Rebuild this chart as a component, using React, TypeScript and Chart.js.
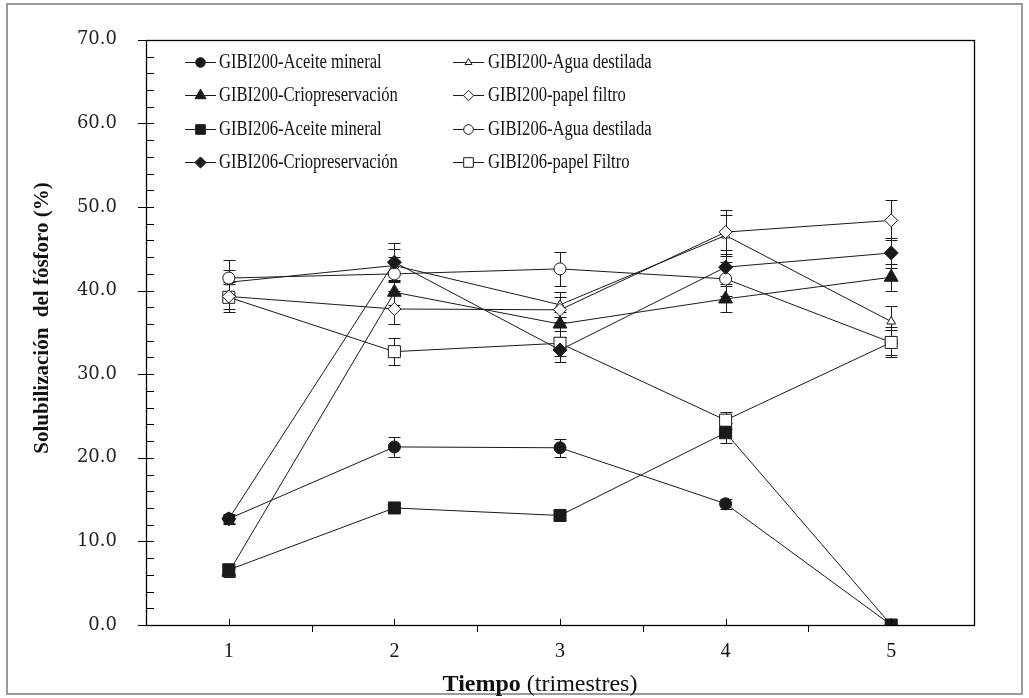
import React, { useEffect, useRef } from 'react';
import { Chart, registerables } from 'chart.js';

Chart.register(...registerables);

// ---------------- data ----------------
const categories = ['1', '2', '3', '4', '5'];

const seriesNames = [
  'GIBI200-Aceite mineral',
  'GIBI200-Agua destilada',
  'GIBI200-Criopreservación',
  'GIBI200-papel filtro',
  'GIBI206-Aceite mineral',
  'GIBI206-Agua destilada',
  'GIBI206-Criopreservación',
  'GIBI206-papel Filtro',
];

const g200Aceite = [12.7, 21.3, 21.2, 14.5, 0.0];
const g200Agua = [41.0, 43.0, 38.3, 46.6, 36.3];
const g200Crio = [6.3, 39.8, 36.0, 39.0, 41.6];
const g200Papel = [39.3, 37.8, 37.7, 47.0, 48.4];
const g206Aceite = [6.6, 14.0, 13.1, 23.0, 0.0];
const g206Agua = [41.5, 42.0, 42.6, 41.4, 33.8];
const g206Crio = [12.7, 43.4, 32.9, 42.8, 44.5];
const g206Papel = [39.2, 32.7, 33.7, 24.5, 33.8];

const g200AceiteErr = [0.6, 1.2, 1.1, 0.6, 0];
const g200AguaErr = [1.5, 2.0, 1.5, 2.5, 1.9];
const g200CrioErr = [0.5, 1.5, 1.5, 1.6, 1.6];
const g200PapelErr = [1.5, 1.8, 1.5, 2.6, 2.4];
const g206AceiteErr = [0.5, 0.5, 0.5, 1.2, 0];
const g206AguaErr = [2.2, 2.0, 2.0, 2.0, 1.5];
const g206CrioErr = [0.5, 2.3, 1.5, 2.0, 1.8];
const g206PapelErr = [1.8, 1.6, 1.5, 1.0, 1.8];

const seriesValues = [g200Aceite, g200Agua, g200Crio, g200Papel, g206Aceite, g206Agua, g206Crio, g206Papel];
const seriesErrors = [g200AceiteErr, g200AguaErr, g200CrioErr, g200PapelErr, g206AceiteErr, g206AguaErr, g206CrioErr, g206PapelErr];

const yMin = 0;
const yMax = 70;
const yMajorStep = 10;
const yMinorStep = 2;

const yTitle = 'Solubilización  del fósforo (%)';
const xTitleBold = 'Tiempo';
const xTitleRest = ' (trimestres)';

// ---------------- styles ----------------
const INK = '#1a1a1a';

type PStyle = 'circle' | 'triangle' | 'rect' | 'rectRot';
const markerStyles: { style: PStyle; radius: number; filled: boolean; order: number }[] = [
  { style: 'circle', radius: 6, filled: true, order: 0 },
  { style: 'triangle', radius: 5, filled: false, order: 2 },
  { style: 'triangle', radius: 8, filled: true, order: 1 },
  { style: 'rectRot', radius: 6.5, filled: false, order: 0 },
  { style: 'rect', radius: 8.5, filled: true, order: 0 },
  { style: 'circle', radius: 6, filled: false, order: 1 },
  { style: 'rectRot', radius: 7, filled: true, order: 0 },
  { style: 'rect', radius: 8.5, filled: false, order: 0 },
];

function drawMarker(ctx: CanvasRenderingContext2D, style: PStyle, x: number, y: number, r: number, filled: boolean) {
  ctx.beginPath();
  if (style === 'circle') {
    ctx.arc(x, y, r, 0, Math.PI * 2);
  } else if (style === 'triangle') {
    let a = 0;
    ctx.moveTo(x + Math.sin(a) * r, y - Math.cos(a) * r);
    a += (2 * Math.PI) / 3;
    ctx.lineTo(x + Math.sin(a) * r, y - Math.cos(a) * r);
    a += (2 * Math.PI) / 3;
    ctx.lineTo(x + Math.sin(a) * r, y - Math.cos(a) * r);
  } else if (style === 'rect') {
    const s = Math.SQRT1_2 * r;
    ctx.rect(x - s, y - s, 2 * s, 2 * s);
  } else {
    ctx.moveTo(x - r, y);
    ctx.lineTo(x, y - r);
    ctx.lineTo(x + r, y);
    ctx.lineTo(x, y + r);
  }
  ctx.closePath();
  ctx.fillStyle = filled ? INK : '#ffffff';
  ctx.fill();
  ctx.strokeStyle = INK;
  ctx.lineWidth = 1;
  ctx.stroke();
}

const decorPlugin = {
  id: 'decor',
  beforeDatasetsDraw(chart: any) {
    const ctx: CanvasRenderingContext2D = chart.ctx;
    const ys = chart.scales.y;
    ctx.save();
    ctx.strokeStyle = INK;
    ctx.lineWidth = 1;
    chart.data.datasets.forEach((ds: any, i: number) => {
      const meta = chart.getDatasetMeta(i);
      const errs = seriesErrors[i];
      meta.data.forEach((pt: any, j: number) => {
        const e = errs[j];
        if (!e) return;
        const v = ds.data[j];
        const yt = Math.round(ys.getPixelForValue(v + e)) + 0.5;
        const yb = Math.round(ys.getPixelForValue(v - e)) + 0.5;
        const x = Math.round(pt.x) + 0.5;
        ctx.beginPath();
        ctx.moveTo(x, yt);
        ctx.lineTo(x, yb);
        ctx.moveTo(x - 6, yt);
        ctx.lineTo(x + 6, yt);
        ctx.moveTo(x - 6, yb);
        ctx.lineTo(x + 6, yb);
        ctx.stroke();
      });
    });
    ctx.restore();
  },
  afterDraw(chart: any) {
    const ctx: CanvasRenderingContext2D = chart.ctx;
    const { left, right, top, bottom } = chart.chartArea;
    const xs = chart.scales.x;
    const ys = chart.scales.y;
    ctx.save();
    // plot box
    ctx.strokeStyle = '#000';
    ctx.lineWidth = 1.3;
    ctx.strokeRect(Math.round(left) + 0.5, Math.round(top) + 0.5, Math.round(right - left), Math.round(bottom - top));

    // y ticks
    ctx.lineWidth = 1;
    ctx.beginPath();
    for (let v = yMin; v <= yMax + 1e-9; v += yMajorStep) {
      const y = Math.round(ys.getPixelForValue(v)) + 0.5;
      ctx.moveTo(left - 8, y);
      ctx.lineTo(left, y);
    }
    for (let v = yMin; v <= yMax + 1e-9; v += yMinorStep) {
      const y = Math.round(ys.getPixelForValue(v)) + 0.5;
      ctx.moveTo(left, y);
      ctx.lineTo(left + 8, y);
    }
    // x ticks
    for (let i = 0; i < categories.length; i++) {
      const x = Math.round(xs.getPixelForValue(i)) + 0.5;
      ctx.moveTo(x, bottom);
      ctx.lineTo(x, bottom - 6);
    }
    for (let i = 0; i < categories.length - 1; i++) {
      const x = Math.round(xs.getPixelForValue(i + 0.5)) + 0.5;
      ctx.moveTo(x, bottom);
      ctx.lineTo(x, bottom + 7);
    }
    ctx.stroke();

    // legend
    const colLine = [185, 453];
    const colText = [219, 488];
    const rowY0 = 62;
    const rowStep = 33.3;
    ctx.font = '20px "Liberation Serif"';
    ctx.textBaseline = 'middle';
    ctx.textAlign = 'left';
    seriesNames.forEach((name, i) => {
      const col = i % 2;
      const row = Math.floor(i / 2);
      const y = Math.round(rowY0 + row * rowStep) + 0.5;
      const x0 = colLine[col];
      ctx.strokeStyle = INK;
      ctx.lineWidth = 1;
      ctx.beginPath();
      ctx.moveTo(x0, y);
      ctx.lineTo(x0 + 31, y);
      ctx.stroke();
      const m = markerStyles[i];
      drawMarker(ctx, m.style, x0 + 15.5, y, m.radius * 0.8, m.filled);
      ctx.fillStyle = '#111';
      ctx.save();
      ctx.translate(colText[col], y);
      ctx.scale(0.83, 1);
      ctx.fillText(name, 0, 0);
      ctx.restore();
    });

    // y title
    ctx.save();
    ctx.translate(43, 318);
    ctx.rotate(-Math.PI / 2);
    ctx.font = 'bold 21px "Liberation Serif"';
    ctx.fillStyle = '#111';
    ctx.textAlign = 'center';
    ctx.textBaseline = 'middle';
    ctx.fillText(yTitle, 0, 0);
    ctx.restore();

    // x title
    const fs = 24;
    ctx.font = `bold ${fs}px "Liberation Serif"`;
    const w1 = ctx.measureText(xTitleBold).width;
    ctx.font = `${fs}px "Liberation Serif"`;
    const w2 = ctx.measureText(xTitleRest).width;
    const cx = 540;
    const ty = 685;
    const sx = cx - (w1 + w2) / 2;
    ctx.fillStyle = '#111';
    ctx.textBaseline = 'middle';
    ctx.textAlign = 'left';
    ctx.font = `bold ${fs}px "Liberation Serif"`;
    ctx.fillText(xTitleBold, sx, ty);
    ctx.font = `${fs}px "Liberation Serif"`;
    ctx.fillText(xTitleRest, sx + w1, ty);
    ctx.restore();
  },
};

export default function App() {
  const canvasRef = useRef<HTMLCanvasElement | null>(null);

  useEffect(() => {
    const canvas = canvasRef.current;
    if (!canvas) return;
    const datasets = seriesNames.map((name, i) => {
      const m = markerStyles[i];
      return {
        label: name,
        data: seriesValues[i],
        borderColor: INK,
        borderWidth: 1,
        backgroundColor: m.filled ? INK : '#ffffff',
        pointStyle: m.style,
        pointRadius: m.radius,
        pointHoverRadius: m.radius,
        pointBackgroundColor: m.filled ? INK : '#ffffff',
        pointBorderColor: INK,
        pointBorderWidth: 1,
        fill: false,
        tension: 0,
        order: m.order,
      };
    });
    const chart = new Chart(canvas, {
      type: 'line',
      data: { labels: categories, datasets },
      options: {
        responsive: false,
        animation: false,
        devicePixelRatio: 1,
        layout: { padding: { top: 34, right: 55, left: 0, bottom: 0 } },
        plugins: {
          legend: { display: false },
          tooltip: { enabled: false },
          title: { display: false },
        },
        scales: {
          x: {
            type: 'category',
            offset: true,
            grid: { display: false, drawTicks: false },
            border: { display: false },
            ticks: {
              font: { family: 'Liberation Serif', size: 20 },
              color: '#111',
              padding: 15,
              maxRotation: 0,
              autoSkip: false,
            },
            afterFit: (s: any) => {
              s.height = 73;
            },
          },
          y: {
            min: yMin,
            max: yMax,
            grid: { display: false, drawTicks: false },
            border: { display: false },
            ticks: {
              stepSize: yMajorStep,
              padding: 29,
              callback: (v: any) => Number(v).toFixed(1),
              font: { family: 'DejaVu Serif', size: 18 },
              color: '#222',
            },
            afterFit: (s: any) => {
              s.width = 146;
            },
          },
        },
      } as any,
      plugins: [decorPlugin],
    });
    return () => chart.destroy();
  }, []);

  return (
    <div style={{ position: 'absolute', left: 0, top: 0, width: 1029, height: 698, background: '#ffffff' }}>
      <div
        style={{
          position: 'absolute',
          left: 6,
          top: 3,
          width: 1017,
          height: 692,
          border: '2px solid #9a9a9a',
          boxSizing: 'border-box',
        }}
      />
      <canvas ref={canvasRef} width={1029} height={698} style={{ position: 'absolute', left: 0, top: 0 }} />
    </div>
  );
}
